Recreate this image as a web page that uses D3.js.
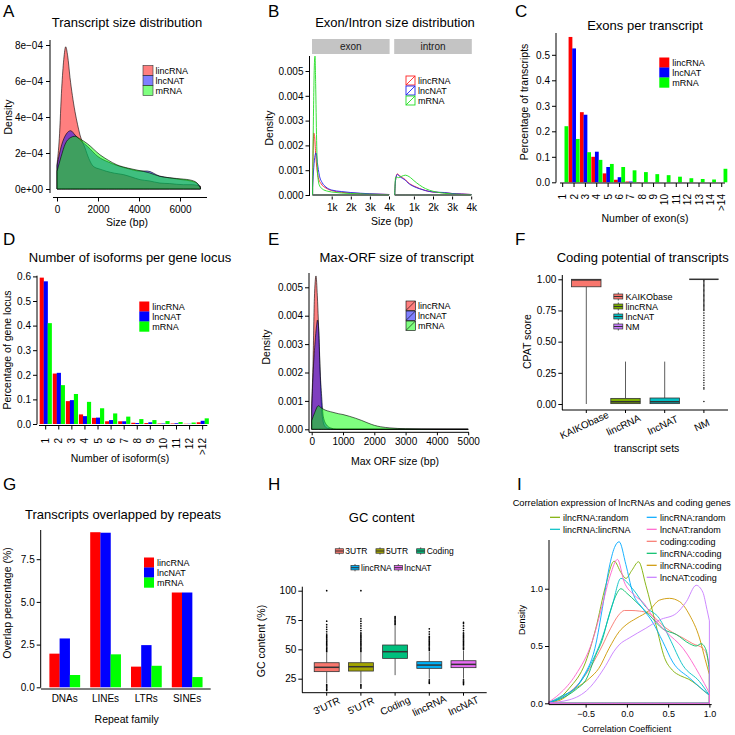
<!DOCTYPE html>
<html><head><meta charset="utf-8">
<script src="https://cdn.jsdelivr.net/npm/d3@7"></script>
<style>
body{margin:0;background:#fff}
svg{display:block}
</style></head><body>
<svg id="chart" width="735" height="735"></svg>
<script>
// ================= DATA =================
const seriesNames = ["lincRNA","lncNAT","mRNA"];

// A: transcript size density  [size bp, density]
const sizeLincRNA = [[0,1.35e-4],[112,2.8e-4],[229,5.6e-4],[330,7.2e-4],[424,7.9e-4],[520,7.4e-4],[634,6.2e-4],[750,5.2e-4],[878,4.3e-4],[1000,3.6e-4],[1122,3.0e-4],[1366,2.28e-4],[1550,1.7e-4],[1771,1.26e-4],[2100,1.1e-4],[2423,0.98e-4],[2800,0.88e-4],[3236,0.8e-4],[3600,0.68e-4],[4049,0.52e-4],[4500,0.45e-4],[5024,0.33e-4],[5500,0.3e-4],[6160,0.24e-4],[6600,0.24e-4],[7000,0.15e-4]];
const sizeLncNAT = [[0,1.3e-4],[229,2.46e-4],[450,3.05e-4],[666,3.24e-4],[880,3.0e-4],[1100,2.75e-4],[1500,2.35e-4],[2000,1.8e-4],[2500,1.5e-4],[3000,1.28e-4],[3500,1.12e-4],[4000,1.0e-4],[4400,1.0e-4],[5000,0.72e-4],[5500,0.62e-4],[6000,0.53e-4],[6500,0.45e-4],[6850,0.3e-4],[7000,0.08e-4]];
const sizeMRNA = [[0,0.98e-4],[200,1.8e-4],[400,2.5e-4],[650,2.85e-4],[878,2.93e-4],[1100,2.8e-4],[1500,2.5e-4],[2098,1.9e-4],[2500,1.6e-4],[2910,1.35e-4],[3500,1.15e-4],[4210,0.98e-4],[4500,0.9e-4],[5024,0.7e-4],[5500,0.62e-4],[6160,0.55e-4],[6500,0.5e-4],[6815,0.35e-4],[7000,0.05e-4]];
const sizeTicksX = [0,2000,4000,6000];
const sizeTicksY = [0,2e-4,4e-4,6e-4,8e-4];

// B: exon / intron size density
const bFacets = ["exon","intron"];
const exonLincRNA = [[0,0.0004],[30,0.0018],[60,0.0025],[100,0.0024],[150,0.0018],[220,0.0011],[300,0.0007],[450,0.00045],[700,0.00028],[1000,0.00018],[1500,0.00011],[2000,0.00008],[2500,0.00006],[3000,0.00004],[4000,0.00002]];
const exonLncNAT = [[0,0.0003],[60,0.0011],[130,0.0016],[180,0.0017],[250,0.0013],[350,0.0008],[500,0.0005],[700,0.00032],[1000,0.0002],[1500,0.00014],[2000,0.0001],[3000,0.00005],[4000,0.00002]];
const exonMRNA = [[0,0.0002],[50,0.0035],[100,0.0054],[127,0.0056],[160,0.0045],[210,0.0022],[270,0.0008],[350,0.0004],[500,0.00025],[800,0.00015],[1000,0.00012],[2000,0.00006],[3000,0.00003],[4000,0.00001]];
const intronLincRNA = [[0,0.0001],[40,0.0006],[130,0.00085],[250,0.00078],[400,0.0007],[550,0.00062],[700,0.0005],[850,0.00042],[1000,0.00036],[1300,0.00026],[1600,0.00018],[2000,0.00012],[2600,0.00009],[3000,0.00006],[3500,0.00004],[4000,0.00002]];
const intronLncNAT = [[0,0.0001],[40,0.0006],[130,0.00083],[250,0.00075],[400,0.00067],[550,0.0006],[700,0.00048],[850,0.0004],[1000,0.00034],[1300,0.00025],[1600,0.00018],[2000,0.00012],[2600,0.0001],[3000,0.00006],[3500,0.00004],[4000,0.00002]];
const intronMRNA = [[0,0.0001],[40,0.0007],[100,0.00072],[200,0.0007],[350,0.00075],[550,0.0008],[750,0.00074],[900,0.00065],[1000,0.00058],[1300,0.0004],[1600,0.00026],[2000,0.00015],[2500,0.00008],[3000,0.00004],[4000,0.00001]];
const bTicksX = [1000,2000,3000,4000];
const bTickLabelsX = ["1k","2k","3k","4k"];
const bTicksY = [0,0.001,0.002,0.003,0.004,0.005];

// C: exons per transcript
const exonCats = ["1","2","3","4","5","6","7","8","9","10","11","12","13","14",">14"];
const exonsLincRNA = [0,0.57,0.275,0.10,0.035,0.01,0.003,0.001,0,0,0,0,0,0,0];
const exonsLncNAT  = [0,0.525,0.265,0.12,0.06,0.02,0.003,0,0,0,0,0,0,0,0];
const exonsMRNA    = [0.22,0.17,0.118,0.088,0.072,0.06,0.047,0.04,0.032,0.028,0.022,0.016,0.013,0.011,0.053];
const cTicksY = [0,0.1,0.2,0.3,0.4,0.5];

// D: isoforms per gene locus
const isoCats = ["1","2","3","4","5","6","7","8","9","10","11","12",">12"];
const isoLincRNA = [0.595,0.205,0.093,0.039,0.025,0.011,0.011,0.005,0.004,0.002,0.002,0.001,0.007];
const isoLncNAT  = [0.58,0.208,0.097,0.032,0.026,0.016,0.011,0.004,0.007,0.002,0.003,0.001,0.013];
const isoMRNA    = [0.41,0.158,0.122,0.09,0.064,0.043,0.03,0.02,0.016,0.012,0.008,0.006,0.023];
const dTicksY = [0,0.1,0.2,0.3,0.4,0.5,0.6];

// E: max ORF size density
const orfLincRNA = [[0,0.0009],[40,0.0022],[85,0.0046],[137,0.0054],[180,0.0047],[212,0.00385],[265,0.0021],[319,0.0007],[370,0.00025],[425,0.0001],[520,0.00003],[700,0],[5000,0]];
const orfLncNAT  = [[0,0.0007],[51,0.0021],[110,0.0031],[150,0.0036],[185,0.00385],[210,0.0037],[233,0.0033],[265,0.0022],[319,0.00115],[372,0.00044],[479,0.00015],[600,0.00005],[800,0],[5000,0]];
const orfMRNA    = [[0,0.0003],[100,0.0006],[212,0.00083],[300,0.00076],[425,0.00068],[600,0.00062],[850,0.00055],[1000,0.00052],[1200,0.00046],[1400,0.00039],[1600,0.00031],[1800,0.00022],[2000,0.00014],[2200,0.00009],[2500,0.00005],[3000,0.00002],[4000,0.000005],[5000,0]];
const eTicksX = [0,1000,2000,3000,4000,5000];
const eTicksY = [0,0.001,0.002,0.003,0.004,0.005];

// F: CPAT coding potential  (lo, q1, median, q3, hi)
const cpatSets = ["KAIKObase","lincRNA","lncNAT","NM"];
const cpatStats = [[0.0,0.94,0.995,1.0,1.0],[0.0,0.003,0.018,0.045,0.34],[0.0,0.003,0.018,0.048,0.34],[1.0,1.0,1.0,1.0,1.0]];
const cpatOutliers = [[],[],[],[0.99,0.98,0.97,0.96,0.95,0.94,0.93,0.92,0.91,0.90,0.89,0.88,0.87,0.86,0.85,0.84,0.83,0.82,0.81,0.80,0.79,0.78,0.77,0.76,0.75,0.73,0.71,0.69,0.67,0.65,0.63,0.61,0.59,0.57,0.55,0.53,0.51,0.49,0.47,0.45,0.43,0.41,0.39,0.37,0.35,0.33,0.31,0.29,0.27,0.25,0.23,0.21,0.19,0.17,0.15,0.13,0.12,0.02]];
const fTicksY = [0,0.25,0.5,0.75,1.0];

// G: repeats overlap (%)
const repeatFamilies = ["DNAs","LINEs","LTRs","SINEs"];
const repLincRNA = [1.97,9.08,1.21,5.55];
const repLncNAT  = [2.86,9.05,2.47,5.55];
const repMRNA    = [0.72,1.93,1.26,0.60];
const gTicksY = [0,2.5,5.0,7.5];

// H: GC content (%)  (lo, q1, median, q3, hi)
const gcSets = ["3'UTR","5'UTR","Coding","lincRNA","lncNAT"];
const gcLegend = ["3UTR","5UTR","Coding","lincRNA","lncNAT"];
const gcStats = [[21,31,34.7,38.6,47],[21,31.5,35.2,38.6,47],[28,42.3,48,53.7,70],[25,33.8,36.6,39.5,48],[25,34.4,37.2,40.3,49]];
const gcOutliers = [
  [48,49,50,51,52,53,54,55,56,57,58,59,60,61,62,63,65,67,69,71,74,100,20,19,18,17,16,15],
  [48,49,50,51,52,53,54,55,56,57,58,59,60,61,62,63,64,66,68,70,72,74,76,100,20,19,18,17],
  [71,72,73,74,75,76,77,78],
  [49,50,51,52,53,54,55,56,57,58,59,60,61,63,65,67.5,24,23,22,21],
  [50,51,52,53,54,55,56,57,58,59,60,61,62,63,64,66,68,70,72,73,24,23,22,21,20]
];
const hTicksY = [25,50,75,100];

// I: correlation densities  [r, density]
const corrNames = ["coding:coding","ilncRNA:coding","ilncRNA:random","lincRNA:coding","lincRNA:lincRNA","lincRNA:random","lncNAT:coding","lncNAT:random"];
const corrCodingCoding   = [[-0.95,0.01],[-0.8,0.05],[-0.6,0.16],[-0.5,0.25],[-0.3,0.5],[-0.2,0.65],[-0.1,0.77],[-0.03,0.81],[0.05,0.81],[0.15,0.805],[0.27,0.785],[0.35,0.74],[0.434,0.68],[0.55,0.62],[0.68,0.57],[0.8,0.52],[0.92,0.48],[0.97,0.42],[1.0,0.32]];
const corrIlncCoding     = [[-0.95,0.005],[-0.8,0.03],[-0.62,0.13],[-0.45,0.22],[-0.34,0.305],[-0.216,0.48],[-0.094,0.625],[0.0,0.69],[0.11,0.74],[0.27,0.81],[0.394,0.9],[0.516,0.916],[0.64,0.887],[0.76,0.77],[0.88,0.57],[0.95,0.38],[1.0,0.25]];
const corrIlncRandom     = [[-0.95,0.005],[-0.85,0.03],[-0.7,0.13],[-0.5,0.36],[-0.378,0.65],[-0.256,1.03],[-0.155,1.24],[-0.07,1.14],[-0.012,1.09],[0.06,1.16],[0.142,1.235],[0.23,1.03],[0.354,0.68],[0.455,0.4],[0.55,0.29],[0.65,0.24],[0.75,0.21],[0.85,0.16],[0.93,0.11],[1.0,0.07]];
const corrLincCoding     = [[-0.95,0.005],[-0.8,0.04],[-0.6,0.13],[-0.5,0.2],[-0.378,0.42],[-0.3,0.55],[-0.216,0.77],[-0.14,0.93],[-0.073,1.0],[0.0,0.96],[0.11,0.887],[0.272,0.77],[0.434,0.65],[0.6,0.6],[0.76,0.52],[0.84,0.5],[0.9,0.52],[0.96,0.465],[1.0,0.28]];
const corrLincLinc       = [[-0.95,0.005],[-0.8,0.06],[-0.6,0.15],[-0.46,0.31],[-0.3,0.57],[-0.175,0.86],[-0.073,1.09],[0.069,1.0],[0.23,0.84],[0.394,0.74],[0.516,0.57],[0.68,0.33],[0.88,0.19],[1.0,0.07]];
const corrLincRandom     = [[-0.95,0.01],[-0.744,0.07],[-0.54,0.22],[-0.378,0.51],[-0.297,0.83],[-0.216,1.18],[-0.15,1.36],[-0.094,1.41],[-0.012,1.21],[0.069,0.97],[0.19,0.83],[0.31,0.71],[0.434,0.54],[0.556,0.36],[0.76,0.22],[1.0,0.07]];
const corrLncnatCoding   = [[-0.95,0.005],[-0.7,0.03],[-0.46,0.13],[-0.256,0.33],[-0.16,0.45],[-0.094,0.51],[0.028,0.57],[0.23,0.655],[0.394,0.727],[0.6,0.785],[0.72,0.887],[0.84,1.03],[0.92,0.97],[0.97,0.82],[1.0,0.72]];
const corrLncnatRandom   = [[-0.95,0.01],[-0.82,0.08],[-0.62,0.25],[-0.42,0.54],[-0.3,0.85],[-0.2,1.12],[-0.114,1.256],[-0.033,1.06],[0.089,0.945],[0.21,0.87],[0.31,0.76],[0.475,0.625],[0.68,0.48],[0.88,0.25],[1.0,0.09]];
const iTicksX = [-0.5,0,0.5,1.0];
const iTicksY = [0,0.5,1.0];
const iLegendCol1 = ["ilncRNA:random","lincRNA:lincRNA"];
const iLegendCol2 = ["lincRNA:random","lncNAT:random","coding:coding","lincRNA:coding","ilncRNA:coding","lncNAT:coding"];

// ================= DRAWING =================
const FONT = '"Liberation Sans", Arial, Helvetica, sans-serif';
const svg = d3.select("#chart");
svg.append("rect").attr("width",735).attr("height",735).attr("fill","#fff");

function T(x,y,s,size,anchor="middle",fill="#000"){
  return svg.append("text").attr("x",x).attr("y",y).attr("font-family",FONT).attr("font-size",size)
    .attr("text-anchor",anchor).attr("fill",fill).text(s);
}
function VT(cx,cy,s,size){
  return svg.append("text").attr("transform",`translate(${cx},${cy}) rotate(-90)`).attr("text-anchor","middle")
    .attr("dy","0.35em").attr("font-family",FONT).attr("font-size",size).attr("fill","#000").text(s);
}
function line(x1,y1,x2,y2,color="#000",w=1){
  return svg.append("line").attr("x1",x1).attr("y1",y1).attr("x2",x2).attr("y2",y2).attr("stroke",color).attr("stroke-width",w);
}
function yAxis(scale,x,vals,fmt,ext,size=10,pad=2,tick=4){
  const g = svg.append("g").attr("transform",`translate(${x},0)`)
    .call(d3.axisLeft(scale).tickValues(vals).tickFormat(fmt).tickSize(tick).tickPadding(pad));
  g.select(".domain").remove();
  g.attr("font-family",FONT).attr("font-size",size);
  g.selectAll("text").attr("fill","#000");
  if(ext) g.append("line").attr("y1",ext[0]).attr("y2",ext[1]).attr("stroke","#000");
  return g;
}
function xAxis(scale,y,vals,fmt,ext,size=10,pad=3,tick=4){
  const ax = d3.axisBottom(scale).tickSize(tick).tickPadding(pad);
  if(vals) ax.tickValues(vals);
  if(fmt) ax.tickFormat(fmt);
  const g = svg.append("g").attr("transform",`translate(0,${y})`).call(ax);
  g.select(".domain").remove();
  g.attr("font-family",FONT).attr("font-size",size);
  g.selectAll("text").attr("fill","#000");
  if(ext) g.append("line").attr("x1",ext[0]).attr("x2",ext[1]).attr("stroke","#000");
  return g;
}
const SOLID = ["#FF0000","#0000FF","#00FF00"];
const ALPHA = ["rgba(255,0,0,0.5)","rgba(0,0,255,0.5)","rgba(0,255,0,0.5)"];
const LEG = 9;      // legend font size
const ROW = 10;     // legend row height

// ---- panel letters ----
[["A",3,17],["B",268,17],["C",515,17],["D",3,245],["E",268,245],["F",515,245],["G",3,490],["H",268,490],["I",517,490]]
  .forEach(([s,x,y])=>T(x,y,s,17,"start"));

// ================= A =================
{
  const x = d3.scaleLinear().domain([0,7000]).range([57,200.5]);
  const y = d3.scaleLinear().domain([0,8e-4]).range([189,45]);
  const area = d3.area().x(d=>x(d[0])).y0(y(0)).y1(d=>y(d[1])).curve(d3.curveMonotoneX);
  [sizeLincRNA,sizeLncNAT,sizeMRNA].forEach((s,i)=>{
    svg.append("path").attr("d",area(s)).attr("fill",ALPHA[i]).attr("stroke","#000").attr("stroke-width",0.6);
  });
  const fmtE = v=>{ if(v===0) return "0e+00"; const e=Math.floor(Math.log10(v)+1e-9); const m=Math.round(v/Math.pow(10,e)); return m+"e\u2212"+String(-e).padStart(2,"0"); };
  yAxis(y,50,sizeTicksY,fmtE,[40,193],10,3);
  xAxis(x,197.5,sizeTicksX,d3.format("d"),[53,207],10,4);
  T(127,26.5,"Transcript size distribution",13);
  T(127,226,"Size (bp)",10.5);
  VT(8,117,"Density",10.5);
  seriesNames.forEach((n,i)=>{
    svg.append("rect").attr("x",143).attr("y",65.5+i*ROW).attr("width",10).attr("height",ROW)
      .attr("fill",ALPHA[i]).attr("stroke","#333").attr("stroke-width",0.6);
    T(155.5,65.5+i*ROW+8.3,n,LEG,"start");
  });
}

// ================= B =================
{
  const xs = [d3.scaleLinear().domain([0,4000]).range([312.6,389]), d3.scaleLinear().domain([0,4000]).range([394.8,471.2])];
  const y = d3.scaleLinear().domain([0,0.006]).range([195,195-0.006*24800]);
  const col = ["#F22","#22E","#2D2"];
  const data = [[exonLincRNA,exonLncNAT,exonMRNA],[intronLincRNA,intronLncNAT,intronMRNA]];
  bFacets.forEach((f,fi)=>{
    const x = xs[fi];
    svg.append("rect").attr("x",x.range()[0]-0.6).attr("y",39).attr("width",x.range()[1]-x.range()[0]+1.2).attr("height",15).attr("fill","#c4c4c4");
    T((x.range()[0]+x.range()[1])/2,50,f,10,"middle","#1a1a1a");
    const area = d3.area().x(d=>x(d[0])).y0(y(0)).y1(d=>y(d[1])).curve(d3.curveMonotoneX);
    data[fi].forEach((s,i)=>{
      svg.append("path").attr("d",area(s)).attr("fill","none").attr("stroke",col[i]).attr("stroke-width",0.9);
    });
    line(x.range()[0],195,x.range()[1],195,"#666",1.3);
    xAxis(x,196.5,bTicksX,(d,i)=>bTickLabelsX[i],null,10,4,3);
  });
  yAxis(y,309.5,bTicksY,d3.format(".3f"),[56,196],10,2,4);
  T(395,26.5,"Exon/Intron size distribution",13);
  T(392,224.5,"Size (bp)",10.5);
  VT(269,128,"Density",10.5);
  seriesNames.forEach((n,i)=>{
    const x0=406,y0=76+i*ROW,s=9;
    svg.append("rect").attr("x",x0).attr("y",y0).attr("width",s).attr("height",s).attr("fill","#fff").attr("stroke",col[i]).attr("stroke-width",0.9);
    line(x0,y0+s,x0+s,y0,col[i],0.9);
    T(418,y0+8,n,LEG,"start");
  });
}

// ---- grouped bar helper ----
function groupedBars(cats,series,x,y){
  const inner = d3.scaleBand().domain(seriesNames).range([0,x.bandwidth()]).padding(0);
  series.forEach((vals,si)=>{
    svg.append("g").selectAll("rect").data(vals).join("rect")
      .attr("x",(d,i)=>x(cats[i])+inner(seriesNames[si]))
      .attr("y",d=>y(d)).attr("width",inner.bandwidth()+0.15)
      .attr("height",d=>Math.max(0,y(0)-y(d))).attr("fill",SOLID[si]);
  });
}
function solidLegend(x0,y0){
  seriesNames.forEach((n,i)=>{
    svg.append("rect").attr("x",x0).attr("y",y0+i*ROW).attr("width",10).attr("height",ROW+0.2).attr("fill",SOLID[i]);
    T(x0+13,y0+i*ROW+8.3,n,LEG,"start");
  });
}

// ================= C =================
{
  const x = d3.scaleBand().domain(exonCats).range([557,727.4]).paddingInner(0.04).paddingOuter(0.02);
  const y = d3.scaleLinear().domain([0,0.5]).range([182.3,182.3-127.5]);
  groupedBars(exonCats,[exonsLincRNA,exonsLncNAT,exonsMRNA],x,y);
  yAxis(y,556,cTicksY,d3.format(".1f"),[33,182.6],10,2,4);
  const g = xAxis(x,183,null,null,[560,725],10,3,4);
  g.selectAll("text").attr("transform","rotate(-90)").attr("text-anchor","end").attr("x",-11).attr("y",0).attr("dy","0.35em");
  T(645,29.5,"Exons per transcript",13);
  T(645,222,"Number of exon(s)",10.5);
  VT(524,102,"Percentage of transcripts",10.5);
  solidLegend(659.3,57.5);
}

// ================= D =================
{
  const x = d3.scaleBand().domain(isoCats).range([39.16,209.2]).paddingInner(0.08).paddingOuter(0.04);
  const y = d3.scaleLinear().domain([0,0.6]).range([424,424-147.6]);
  groupedBars(isoCats,[isoLincRNA,isoLncNAT,isoMRNA],x,y);
  yAxis(y,37,dTicksY,d3.format(".1f"),[275.7,424.3],10,2,4);
  const g = xAxis(x,425.5,null,null,[39,207.3],10,3,4);
  g.selectAll("text").attr("transform","rotate(-90)").attr("text-anchor","end").attr("x",-12.5).attr("y",0).attr("dy","0.35em");
  T(130,262,"Number of isoforms per gene locus",13);
  T(120,462,"Number of isoform(s)",10.5);
  VT(7,350,"Percentage of gene locus",10.5);
  solidLegend(139.3,301.5);
}

// ================= E =================
{
  const x = d3.scaleLinear().domain([0,5000]).range([311.7,468.2]);
  const y = d3.scaleLinear().domain([0,0.006]).range([429.3,429.3-170.4]);
  const area = d3.area().x(d=>x(d[0])).y0(y(0)).y1(d=>y(d[1])).curve(d3.curveMonotoneX);
  [orfLincRNA,orfLncNAT,orfMRNA].forEach((s,i)=>{
    svg.append("path").attr("d",area(s)).attr("fill",ALPHA[i]).attr("stroke","#000").attr("stroke-width",0.6);
  });
  yAxis(y,309,eTicksY,d3.format(".3f"),[273,432.3],10,2,4);
  xAxis(x,432.3,eTicksX,d3.format("d"),[309,469],10,3,3);
  T(396.7,262,"Max-ORF size of transcript",13);
  T(395,465,"Max ORF size (bp)",10.5);
  VT(266,347,"Density",10.5);
  seriesNames.forEach((n,i)=>{
    const x0=406,y0=301+i*ROW,s=9.4;
    svg.append("rect").attr("x",x0).attr("y",y0).attr("width",s).attr("height",s).attr("fill",ALPHA[i]).attr("stroke","#000").attr("stroke-width",0.6);
    line(x0,y0+s,x0+s,y0,"#000",0.6);
    T(418,y0+8,n,LEG,"start");
  });
}

// ---- boxplot helpers ----
function drawBoxes(cats,stats,outliers,x,y,colors,r){
  cats.forEach((c,i)=>{
    const [lo,q1,md,q3,hi] = stats[i];
    const x0 = x(c), w = x.bandwidth(), xc = x0+w/2;
    line(xc,y(hi),xc,y(q3),"#333",0.8);
    line(xc,y(q1),xc,y(lo),"#333",0.8);
    svg.append("rect").attr("x",x0).attr("y",y(q3)).attr("width",w).attr("height",Math.max(0,y(q1)-y(q3)))
      .attr("fill",colors[i]).attr("stroke","#333").attr("stroke-width",0.8);
    line(x0,y(md),x0+w,y(md),"#333",1.5);
    svg.append("g").selectAll("circle").data(outliers[i]).join("circle")
      .attr("cx",xc).attr("cy",d=>y(d)).attr("r",r).attr("fill","#000");
  });
}
function boxKey(x0,y0,s,color){
  line(x0+s/2,y0+s*0.1,x0+s/2,y0+s*0.9,"#333",0.8);
  svg.append("rect").attr("x",x0+s*0.05).attr("y",y0+s*0.25).attr("width",s*0.9).attr("height",s*0.5)
    .attr("fill",color).attr("stroke","#333").attr("stroke-width",0.7);
  line(x0+s*0.05,y0+s/2,x0+s*0.95,y0+s/2,"#333",1);
}

// ================= F =================
{
  const colors = ["#F8766D","#7CAE00","#00BFC4","#C77CFF"];
  const x = d3.scaleBand().domain(cpatSets).range([566.7,723.5]).paddingInner(0.25).paddingOuter(0.125);
  const y = d3.scaleLinear().domain([0,1]).range([404,279.3]);
  drawBoxes(cpatSets,cpatStats,cpatOutliers,x,y,colors,0.7);
  yAxis(y,562.3,fTicksY,d3.format(".2f"),[275,410],10,2,4);
  const g = xAxis(x,410,null,null,[562,728],10,3,3);
  g.selectAll("text").attr("text-anchor","middle").attr("y",0).attr("dy","0.35em").attr("transform","translate(-2,15) rotate(-25)");
  T(642.7,262,"Coding potential of transcripts",13);
  T(646.7,452,"transcript sets",10.5);
  VT(527.5,341.7,"CPAT score",10.5);
  cpatSets.forEach((n,i)=>{
    boxKey(613.3,291.5+i*ROW,ROW,colors[i]);
    T(625.5,291.5+i*ROW+8.3,n,LEG,"start");
  });
}

// ================= G =================
{
  const x = d3.scaleBand().domain(repeatFamilies).range([44.3,207.5]).paddingInner(0.25).paddingOuter(0.125);
  const y = d3.scaleLinear().domain([0,10]).range([687.3,687.3-170.8]);
  groupedBars(repeatFamilies,[repLincRNA,repLncNAT,repMRNA],x,y);
  yAxis(y,40.7,gTicksY,d3.format(".1f"),[530,687.6],10,2,4);
  xAxis(x,689,null,null,[41,210.7],10,6,0);
  T(123,518.5,"Transcripts overlapped by repeats",13);
  T(126.7,723,"Repeat family",10.5);
  VT(7,603,"Overlap percentage (%)",10.5);
  solidLegend(144,557.5);
}

// ================= H =================
{
  const colors = ["#F8766D","#A3A500","#00BF7D","#00B0F6","#E76BF3"];
  const x = d3.scaleBand().domain(gcSets).range([309.6,480.6]).paddingInner(0.27).paddingOuter(0.135);
  const y = d3.scaleLinear().domain([0,100]).range([708,590.7]);
  drawBoxes(gcSets,gcStats,gcOutliers,x,y,colors,0.85);
  yAxis(y,302.3,hTicksY,d3.format("d"),[586.7,692.7],10,2,4);
  const g = xAxis(x,692.7,null,null,[302,486.7],10,3,3);
  g.selectAll("text").attr("text-anchor","middle").attr("y",0).attr("dy","0.35em").attr("transform","translate(0,13) rotate(-25)");
  T(381.7,521.5,"GC content",13);
  VT(261.7,641,"GC content (%)",10.5);
  const legendPos = [[339.3,551],[380,551],[420.7,551],[355,567.7],[398.3,567.7]];
  gcLegend.forEach((n,i)=>{
    const [cx,cy] = legendPos[i];
    boxKey(cx-4.5,cy-4.5,9,colors[i]);
    T(cx+6,cy+3.2,n,8.5,"start");
  });
}

// ================= I =================
{
  const colors = {"coding:coding":"#F8766D","ilncRNA:coding":"#CD9600","ilncRNA:random":"#7CAE00","lincRNA:coding":"#00BE67",
    "lincRNA:lincRNA":"#00BFC4","lincRNA:random":"#00A9FF","lncNAT:coding":"#C77CFF","lncNAT:random":"#FF61CC"};
  const data = [corrCodingCoding,corrIlncCoding,corrIlncRandom,corrLincCoding,corrLincLinc,corrLincRandom,corrLncnatCoding,corrLncnatRandom];
  const x = d3.scaleLinear().domain([-0.95,1]).range([548.5,709.4]);
  const y = d3.scaleLinear().domain([0,1.4]).range([703.3,703.3-160.4]);
  line(549,704.6,711.7,704.6,"#000",1);
  const area = d3.area().x(d=>x(d[0])).y0(y(0)).y1(d=>y(d[1])).curve(d3.curveMonotoneX);
  corrNames.forEach((n,i)=>{
    svg.append("path").attr("d",area(data[i])).attr("fill","none").attr("stroke",colors[n]).attr("stroke-width",0.9);
  });
  yAxis(y,549,iTicksY,d3.format(".1f"),[540,704.6],9,2,4);
  xAxis(x,704.6,iTicksX,d3.format(".1f"),null,9,3,3);
  T(621.7,505.5,"Correlation expression of lncRNAs and coding genes",9.3);
  T(626.7,732,"Correlation Coefficient",9);
  VT(521.7,620,"Density",9);
  iLegendCol1.forEach((n,i)=>{
    line(550,517.3+i*12,560,517.3+i*12,colors[n],1.2);
    T(563,517.3+i*12+3.2,n,9,"start");
  });
  iLegendCol2.forEach((n,i)=>{
    line(646.7,517.3+i*12,656.7,517.3+i*12,colors[n],1.2);
    T(660,517.3+i*12+3.2,n,9,"start");
  });
}
</script>
</body></html>
